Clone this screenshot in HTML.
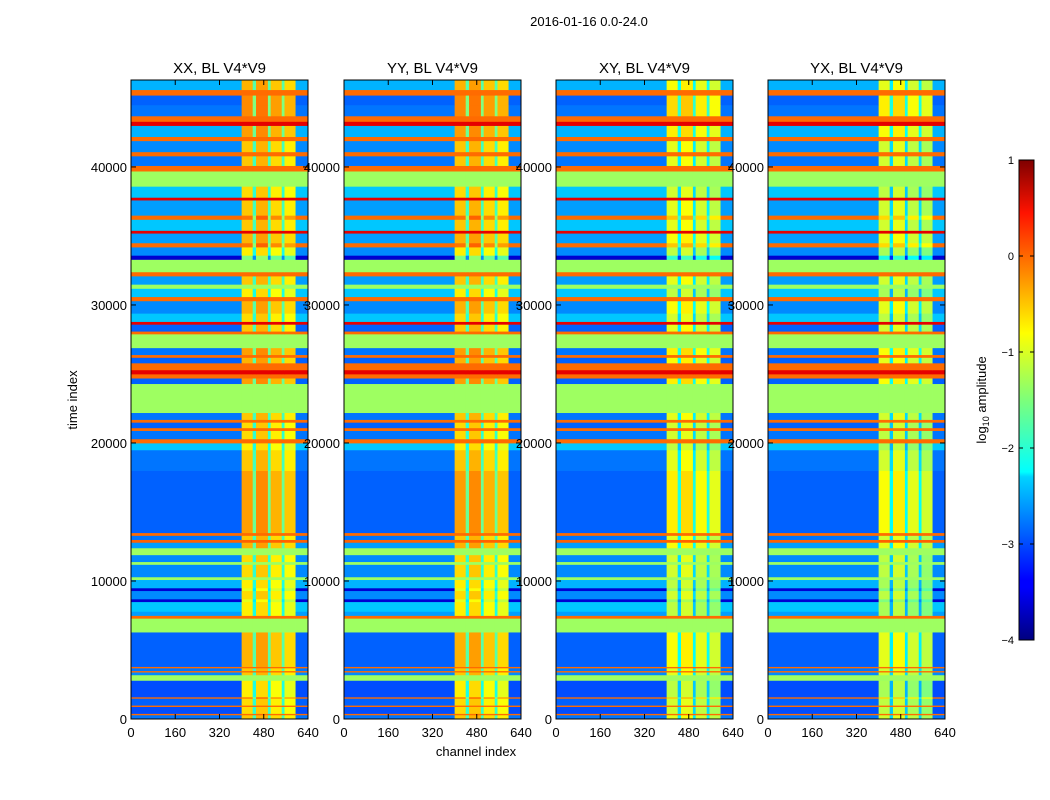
<!DOCTYPE html>
<html><head><meta charset="utf-8"><style>
body{margin:0;background:#fff;}
svg{display:block;font-family:"Liberation Sans",sans-serif;}
</style></head><body>
<svg id="fig" width="1050" height="800">
<defs><linearGradient id="jet" x1="0" y1="1" x2="0" y2="0">
<stop offset="0" stop-color="#00007f"/><stop offset="0.11" stop-color="#0000ff"/><stop offset="0.125" stop-color="#0000ff"/>
<stop offset="0.34" stop-color="#00d4ff"/><stop offset="0.35" stop-color="#0ff"/><stop offset="0.5" stop-color="#7dff7a"/>
<stop offset="0.64" stop-color="#ff0"/><stop offset="0.89" stop-color="#ff1300"/><stop offset="1" stop-color="#7f0000"/>
</linearGradient></defs>
<text x="589" y="26" font-size="13" text-anchor="middle">2016-01-16 0.0-24.0</text>
<text x="476" y="756" font-size="13" text-anchor="middle">channel index</text>
<text transform="translate(77,400) rotate(-90)" font-size="13" text-anchor="middle">time index</text>
<g id="panels"></g>
<g>
<rect x="1019" y="160" width="15" height="480" fill="url(#jet)" stroke="#000" stroke-width="1"/>
<g id="cbticks"></g>
<text transform="translate(986,400) rotate(-90)" font-size="13" text-anchor="middle">log<tspan font-size="9" dy="3">10</tspan><tspan dy="-3"> amplitude</tspan></text>
</g>
</svg>
<script>
// time bands (thousands): start, end, outer value, inner value
const bandStart=[0,0.3,0.4,0.9,1.0,1.5,1.6,2.8,3.2,3.4,3.5,3.7,3.8,6.3,7.3,7.5,7.8,8.5,8.7,9.3,9.5,10.1,10.3,11.2,11.4,11.9,12.4,12.8,13.0,13.3,13.5,18.0,19.5,20.0,20.3,20.9,21.1,21.5,21.7,22.2,24.3,24.7,25.0,25.3,25.8,26.2,26.4,26.9,27.9,28.1,28.6,28.8,29.4,30.3,30.6,31.2,31.5,32.1,32.4,33.3,33.6,34.2,34.5,35.2,35.4,36.2,36.5,37.6,37.8,38.6,39.7,40.1,40.8,41.1,41.9,42.2,43.0,43.3,43.7,44.5,45.2,45.6];
const bandEnd=[0.3,0.4,0.9,1.0,1.5,1.6,2.8,3.2,3.4,3.5,3.7,3.8,6.3,7.3,7.5,7.8,8.5,8.7,9.3,9.5,10.1,10.3,11.2,11.4,11.9,12.4,12.8,13.0,13.3,13.5,18.0,19.5,20.0,20.3,20.9,21.1,21.5,21.7,22.2,24.3,24.7,25.0,25.3,25.8,26.2,26.4,26.9,27.9,28.1,28.6,28.8,29.4,30.3,30.6,31.2,31.5,32.1,32.4,33.3,33.6,34.2,34.5,35.2,35.4,36.2,36.5,37.6,37.8,38.6,39.7,40.1,40.8,41.1,41.9,42.2,43.0,43.3,43.7,44.5,45.2,45.6,46.3];
const outerVal=[-2.8,-0.15,-3.0,-0.15,-2.9,-0.15,-3.0,-1.35,-2.7,-0.15,-2.8,-0.15,-2.9,-1.35,-0.15,-2.6,-2.4,-3.6,-2.7,-3.6,-2.5,-1.35,-2.7,-1.35,-2.7,-1.35,-2.6,-0.1,-2.8,-0.15,-2.9,-2.8,-2.4,-0.15,-2.8,-0.15,-2.9,-0.15,-2.8,-1.35,-2.9,-0.15,0.5,-0.15,-2.9,-0.15,-2.8,-1.35,-0.15,-2.9,0.5,-2.4,-2.7,-0.15,-2.4,-1.35,-2.6,-0.15,-1.35,-3.6,-2.7,-0.15,-2.6,0.5,-2.4,-0.15,-2.6,0.5,-2.4,-1.35,-0.15,-2.8,-0.15,-2.7,-0.15,-2.5,0.5,-0.15,-2.8,-2.9,-0.15,-2.5];
const innerVal=[-0.6,-0.15,-0.7,-0.15,-0.7,-0.2,-0.8,-1.35,-0.6,-0.15,-0.6,-0.15,-0.5,-1.35,-0.15,-0.8,-0.8,-1,-0.7,-1,-0.8,-1.35,-0.7,-1.35,-0.7,-1.35,-0.5,-0.1,-0.6,-0.15,-0.4,-0.6,-0.8,-0.15,-0.7,-0.15,-0.7,-0.15,-0.6,-1.35,-0.4,-0.15,0.5,-0.15,-0.5,-0.15,-0.4,-1.35,-0.15,-0.6,0.5,-0.7,-0.5,-0.15,-0.8,-1.35,-0.6,-0.15,-1.35,-1.5,-0.8,-0.2,-0.5,0.5,-0.6,-0.2,-0.6,0.5,-0.7,-1.35,-0.15,-0.6,-0.15,-0.6,-0.15,-0.4,0.5,-0.15,-0.3,-0.3,-0.15,-0.5];
// channel segments of the middle region and their offsets
const segStart=[0,400,440,452,495,505,545,555,595];
const segEnd=[400,440,452,495,505,545,555,595,640];
const segOffset=[null,0,-1.2,0.1,-1.2,-0.1,-1.2,-0.2,null];
const panelTitles=["XX, BL V4*V9","YY, BL V4*V9","XY, BL V4*V9","YX, BL V4*V9"];
const panelShift=[0,0,-0.4,-0.5];
const xTicks=[0,160,320,480,640];
const yTicks=[0,10000,20000,30000,40000];
const cbTicks=[1,0,-1,-2,-3,-4];

const NS="http://www.w3.org/2000/svg";
const panelLeft=[131,344,556,768], PW=177, PT=80, PB=719, TMAX=46300;
const vmin=-4,vmax=1;
function clamp(v){return Math.max(0,Math.min(1,v));}
function jet(v){const n=clamp((v-vmin)/(vmax-vmin));
 const r=clamp(Math.min(4*n-1.5,-4*n+4.5)),g=clamp(Math.min(4*n-0.5,-4*n+3.5)),b=clamp(Math.min(4*n+0.5,-4*n+2.5));
 return `rgb(${Math.round(r*255)},${Math.round(g*255)},${Math.round(b*255)})`;}
function mk(tag,attrs,parent){const e=document.createElementNS(NS,tag);for(const k in attrs)e.setAttribute(k,attrs[k]);parent.appendChild(e);return e;}
const yScale=t=>PB-(t/TMAX)*(PB-PT);
const panelsG=document.getElementById('panels');
panelTitles.forEach((title,p)=>{
 const L=panelLeft[p];const xScale=c=>L+c/640*PW;
 const g=mk('g',{},panelsG);
 
 
 for(let i=0;i<bandStart.length;i++){
  const y1=yScale(bandEnd[i]*1000),y0=yScale(bandStart[i]*1000);
  for(let s=0;s<segStart.length;s++){
   let v;
   if(segOffset[s]===null||outerVal[i]===innerVal[i]) v=outerVal[i];
   else v=innerVal[i]+segOffset[s]+panelShift[p];
   const r=mk('rect',{x:xScale(segStart[s]).toFixed(2),y:y1.toFixed(2),width:(xScale(segEnd[s])-xScale(segStart[s])+0.4).toFixed(2),height:(y0-y1+0.4).toFixed(2),fill:jet(v)},g);
   
   
  }
 }
 const fr=mk('rect',{x:L,y:PT,width:PW,height:PB-PT,fill:'none',stroke:'#000','stroke-width':1},g);
 
 
 const tt=mk('text',{x:L+PW/2,y:73,'font-size':15,'text-anchor':'middle'},g);tt.textContent=title;
 
 
 xTicks.forEach(c=>{const x=xScale(c);
  mk('line',{x1:x,x2:x,y1:PB,y2:PB-5,stroke:'#000'},g);mk('line',{x1:x,x2:x,y1:PT,y2:PT+5,stroke:'#000'},g);
  const t=mk('text',{x:x,y:PB+18,'font-size':13,'text-anchor':'middle'},g);t.textContent=c;
  
  });
 yTicks.forEach(v=>{const y=yScale(v);
  mk('line',{x1:L,x2:L+5,y1:y,y2:y,stroke:'#000'},g);mk('line',{x1:L+PW,x2:L+PW-5,y1:y,y2:y,stroke:'#000'},g);
  const t=mk('text',{x:L-4,y:y+5,'font-size':13,'text-anchor':'end'},g);t.textContent=v;
  
  });
});
const cbg=document.getElementById('cbticks');
cbTicks.forEach(v=>{const y=640-(v-vmin)/(vmax-vmin)*480;
 mk('line',{x1:1019,x2:1023,y1:y,y2:y,stroke:'#000'},cbg);mk('line',{x1:1030,x2:1034,y1:y,y2:y,stroke:'#000'},cbg);
 const t=mk('text',{x:1014,y:y+4,'font-size':11,'text-anchor':'end'},cbg);t.textContent=v<0?'\u2212'+(-v):v;
 
 });
</script>
</body></html>
